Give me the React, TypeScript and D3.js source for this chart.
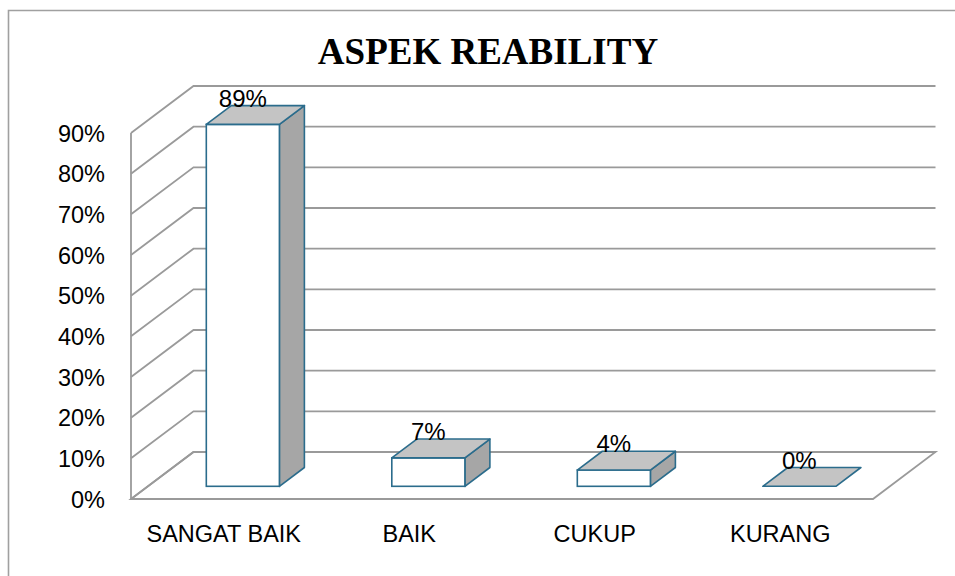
import React from "react";
import * as d3 from "d3";

const categories = ["SANGAT BAIK", "BAIK", "CUKUP", "KURANG"];
const values = [89, 7, 4, 0];
const valueLabels = ["89%", "7%", "4%", "0%"];
const ticks = [0, 10, 20, 30, 40, 50, 60, 70, 80, 90];
const title = "ASPEK REABILITY";

const W = 955;
const H = 576;
const DX = 62.5;
const DY = -47;
const GRID = "#9a9a9a";
const EDGE = "#2b6c8c";
const SANS = "'Liberation Sans', Arial, Helvetica, sans-serif";

export default function App() {
  const x = d3.scaleBand<string>().domain(categories).range([131, 873]).padding(0);
  const y = d3.scaleLinear().domain([0, 90]).range([499, 133]);
  const bw = x.bandwidth();
  const zf = 0.27;
  const zb = 0.67;
  const y0 = y(0);

  const pt = (px: number, py: number) => `${px},${py}`;

  return (
    <svg width={W} height={H} style={{ position: "absolute", left: 0, top: 0, background: "#fff" }}>
      {/* outer frame */}
      <path d={`M8.5,${H + 5} L8.5,10.5 L${W + 5},10.5`} fill="none" stroke="#a0a0a0" strokeWidth={1.6} />
      <text x={488} y={64} textAnchor="middle" fontFamily="'Liberation Serif', 'Times New Roman', serif" fontWeight="bold" fontSize={37}>
        {title}
      </text>

      {/* floor */}
      <polygon
        points={[pt(131, y0), pt(873, y0), pt(873 + DX, y0 + DY), pt(131 + DX, y0 + DY)].join(" ")}
        fill="#fff"
        stroke={GRID}
        strokeWidth={1.8}
      />
      {/* left wall vertical */}
      <line x1={131} x2={131} y1={y0} y2={y(90)} stroke={GRID} strokeWidth={1.8} />
      {ticks.map((t) => (
        <g key={t}>
          <polyline
            points={[pt(131, y(t)), pt(131 + DX, y(t) + DY), pt(873 + DX, y(t) + DY)].join(" ")}
            fill="none"
            stroke={GRID}
            strokeWidth={1.8}
          />
          <text x={105} y={y(t) + 2.5} textAnchor="end" dominantBaseline="middle" fontFamily={SANS} fontSize={23.5}>
            {t}%
          </text>
        </g>
      ))}

      {/* bars */}
      {categories.map((c, i) => {
        const v = values[i];
        const px = (x(c) as number) + bw * 0.315;
        const w = bw * 0.394;
        const fx = px + zf * DX;
        const fyB = y0 + zf * DY;
        const fyT = y(v) + zf * DY;
        const ddx = (zb - zf) * DX;
        const ddy = (zb - zf) * DY;
        const h = fyB - fyT;
        return (
          <g key={c}>
            {h > 0.5 && (
              <polygon
                points={[pt(fx + w, fyT), pt(fx + w + ddx, fyT + ddy), pt(fx + w + ddx, fyB + ddy), pt(fx + w, fyB)].join(" ")}
                fill="#a6a6a6"
                stroke={EDGE}
                strokeWidth={1.6}
                strokeLinejoin="round"
              />
            )}
            {h > 0.5 && (
              <rect x={fx} y={fyT} width={w} height={h} fill="#fff" stroke={EDGE} strokeWidth={1.6} />
            )}
            <polygon
              points={[pt(fx, fyT), pt(fx + w, fyT), pt(fx + w + ddx, fyT + ddy), pt(fx + ddx, fyT + ddy)].join(" ")}
              fill="#c4c4c4"
              stroke={EDGE}
              strokeWidth={1.6}
              strokeLinejoin="round"
            />
            <text x={fx + w / 2} y={fyT + ddy + 1} textAnchor="middle" fontFamily={SANS} fontSize={24}>
              {valueLabels[i]}
            </text>
            <text x={(x(c) as number) + bw / 2} y={542} textAnchor="middle" fontFamily={SANS} fontSize={23.5}>
              {c}
            </text>
          </g>
        );
      })}
    </svg>
  );
}
